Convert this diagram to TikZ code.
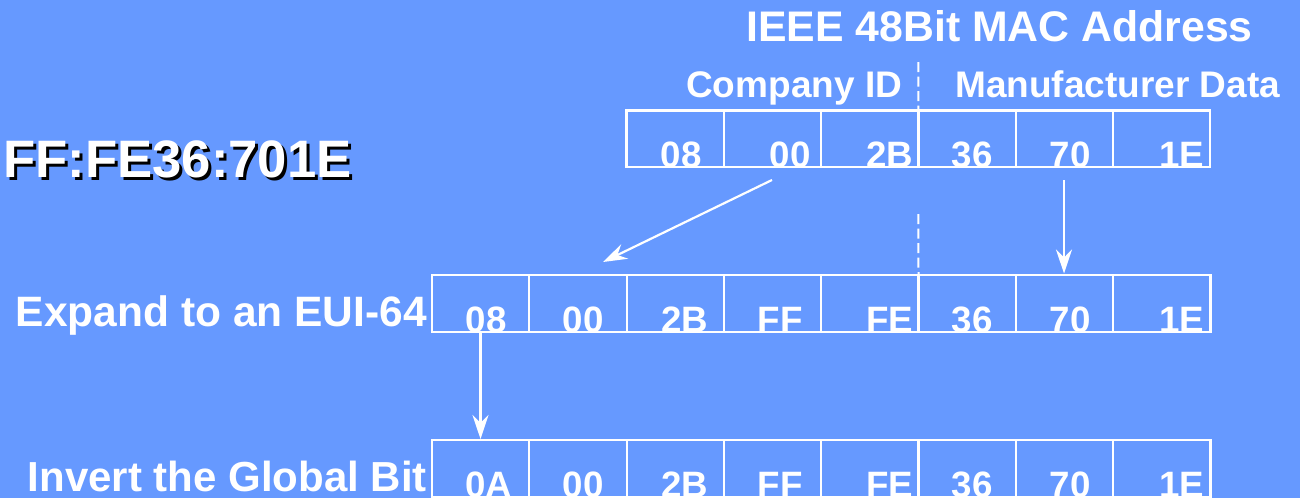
\documentclass[tikz,border=0pt]{standalone}
\usepackage{fontspec}
\setmainfont{Liberation Sans}
\usetikzlibrary{arrows.meta}
\definecolor{bg}{RGB}{102,153,255}
\begin{document}
\begin{tikzpicture}[x=1pt,y=-1pt,
 cell/.style={draw=white, line width=2.2pt, minimum width=97.3pt, minimum height=56.5pt, inner sep=0pt, outer sep=0pt, anchor=north west},
 num/.style={text=white, font=\fontsize{36.7}{40}\selectfont\bfseries, anchor=base, inner sep=0pt},
 lbl/.style={text=white, font=\fontsize{37}{40}\selectfont\bfseries, anchor=base west, inner sep=0pt},
 biglbl/.style={text=white, font=\fontsize{42.5}{46}\selectfont\bfseries, inner sep=0pt},
 arr/.style={draw=white, line width=2.2pt, -{Stealth[length=24pt,width=16pt,inset=8pt]}},
 divider/.style={draw=white, line width=2pt, dash pattern=on 10pt off 4.5pt}
]
\fill[bg] (0,0) rectangle (1300,498);
\useasboundingbox (0,0) rectangle (1300,498);

% titles and labels
\node[biglbl, anchor=base west, font=\fontsize{42.8}{46}\selectfont\bfseries] (title) at (746,41) {IEEE 48Bit MAC Address};
\node[lbl] (comp) at (686,97) {Company ID};
\node[lbl] (manu) at (955,97) {Manufacturer Data};
\node[biglbl, anchor=base east] (expand) at (427,326) {Expand to an EUI-64};
\node[biglbl, anchor=base east, font=\fontsize{42}{46}\selectfont\bfseries] (invert) at (427,491) {Invert the Global Bit};
\node[biglbl, anchor=base west, text=black, font=\fontsize{52.7}{56}\selectfont\bfseries] (shadow) at (6,180) {FF:FE36:701E};
\node[biglbl, anchor=base west, font=\fontsize{52.7}{56}\selectfont\bfseries] (eui) at (3,177) {FF:FE36:701E};

% numbers
\foreach \x/\t [count=\i] in {681/08,790/00,890/2B,972/36,1070/70,1182/1E}
  \node[num] (tn\i) at (\x,167.5) {\t};
\foreach \x/\t [count=\i] in {486/08,583/00,685/2B,780/FF,890/FE,972/36,1070/70,1182/1E}
  \node[num] (mn\i) at (\x,332.5) {\t};
\foreach \x/\t [count=\i] in {489/0A,583/00,685/2B,780/FF,890/FE,972/36,1070/70,1182/1E}
  \node[num] (bn\i) at (\x,497.5) {\t};

% cells
\foreach \i in {0,...,5}
  \node[cell] (tc\i) at ({626.5+97.3*\i},110.5) {};
\foreach \i in {0,...,7}
  \node[cell] (mc\i) at ({432+97.3*\i},275.3) {};
\foreach \i in {0,...,7}
  \node[cell] (bc\i) at ({432+97.3*\i},440.3) {};

% dividers
\coordinate (d1s) at (918.3,62);
\coordinate (d2s) at (918.3,214);
\draw[divider] (d1s) -- (tc3.north west);
\draw[divider] (d2s) -- (mc5.north west);

% arrows
\coordinate (a1s) at (772,180);
\coordinate (a1e) at (603,262);
\coordinate (a2s) at (1064,180);
\coordinate (a2e) at (1064,273.5);
\coordinate (a3s) at (480.5,332);
\coordinate (a3e) at (480.5,439);
\draw[arr] (a1s) -- (a1e);
\draw[arr] (a2s) -- (a2e);
\draw[arr] (a3s) -- (a3e);
\end{tikzpicture}
\end{document}
